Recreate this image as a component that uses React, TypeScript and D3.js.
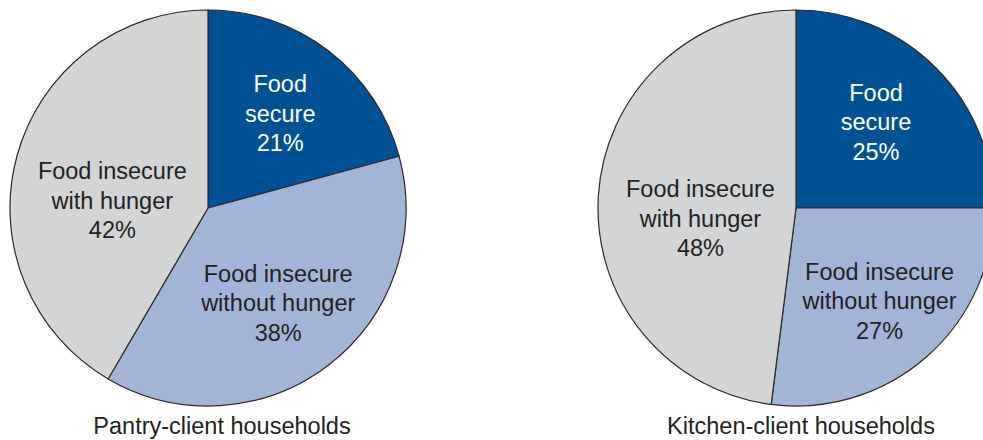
import React from "react";
import * as d3 from "d3";

const categories = ["Food secure", "Food insecure without hunger", "Food insecure with hunger"];
const labelLines = [["Food", "secure"], ["Food insecure", "without hunger"], ["Food insecure", "with hunger"]];
const pantryValues = [21, 38, 42];
const kitchenValues = [25, 27, 48];
const chartTitles = ["Pantry-client households", "Kitchen-client households"];

const colors = ["#005294", "#a3b5d7", "#d3d4d6"];
const textColors = ["#ffffff", "#222222", "#222222"];

const W = 983;
const H = 440;
const R = 198;
const FONT = "Arial, 'Liberation Sans', Helvetica, sans-serif";
const LINE = 29.5;

type PieSpec = { cx: number; cy: number; values: number[]; title: string; titleX: number; nudges: [number, number][] };

const pies: PieSpec[] = [
  { cx: 208, cy: 208, values: pantryValues, title: chartTitles[0], titleX: 222, nudges: [[0, 0], [-2, 1], [19, 24]] },
  { cx: 796, cy: 208, values: kitchenValues, title: chartTitles[1], titleX: 801, nudges: [[-4, -2], [5, 4], [23, 18]] },
];

function Pie({ spec }: { spec: PieSpec }) {
  const pie = d3.pie<number>().sort(null).value((d) => d);
  const arcs = pie(spec.values);
  const arc = d3.arc<d3.PieArcDatum<number>>().innerRadius(0).outerRadius(R);
  const labelArc = d3.arc<d3.PieArcDatum<number>>().innerRadius(R * 0.6).outerRadius(R * 0.6);
  return (
    <g>
      <g transform={`translate(${spec.cx},${spec.cy})`}>
        {arcs.map((a, i) => (
          <path key={categories[i]} d={arc(a) || ""} fill={colors[i]} stroke="#2a2a2a" strokeWidth={1.2} strokeLinejoin="round" />
        ))}
        {arcs.map((a, i) => {
          const [x, y] = labelArc.centroid(a);
          const lx = x + spec.nudges[i][0];
          const ly = y + spec.nudges[i][1];
          const lines = [...labelLines[i], `${spec.values[i]}%`];
          return (
            <text key={"t" + i} x={lx} y={ly + 8 - LINE} textAnchor="middle" fontFamily={FONT} fontSize={23.5} fill={textColors[i]}>
              {lines.map((l, k) => (
                <tspan key={k} x={lx} dy={k === 0 ? 0 : LINE}>{l}</tspan>
              ))}
            </text>
          );
        })}
      </g>
      <text x={spec.titleX} y={434} textAnchor="middle" fontFamily={FONT} fontSize={23.5} fill="#222222">
        {spec.title}
      </text>
    </g>
  );
}

export default function App() {
  return (
    <svg width={W} height={H} viewBox={`0 0 ${W} ${H}`} style={{ position: "absolute", left: 0, top: 0, display: "block", background: "#ffffff" }}>
      <rect width={W} height={H} fill="#ffffff" />
      {pies.map((p) => (
        <Pie key={p.title} spec={p} />
      ))}
    </svg>
  );
}
